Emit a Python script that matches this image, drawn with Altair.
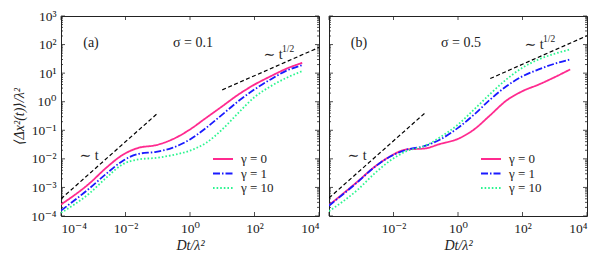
import altair as alt
import pandas as pd

log_t = [-4.0, -3.1, -2.6, -2.1, -1.6, -1.05, -0.55, 0.0, 0.5, 1.0, 1.5, 2.0, 2.5, 3.0, 3.48]

gamma_labels = ["γ = 0", "γ = 1", "γ = 10"]

# panel (a), sigma = 0.1 : log10 <Δx²(t)>/λ²
a_g0 = [-3.6, -2.84, -2.315, -1.87, -1.615, -1.52, -1.32, -0.97, -0.565, -0.16, 0.25, 0.6, 0.89, 1.16, 1.36]
a_g1 = [-3.81, -3.015, -2.525, -2.08, -1.825, -1.755, -1.615, -1.32, -0.915, -0.45, 0.02, 0.43, 0.78, 1.09, 1.28]
a_g10 = [-3.89, -3.19, -2.665, -2.2, -2.02, -1.965, -1.87, -1.71, -1.44, -0.97, -0.39, 0.16, 0.54, 0.84, 1.07]

# panel (b), sigma = 0.5
b_g0 = [-3.62, -2.78, -2.29, -1.91, -1.67, -1.64, -1.475, -1.30, -0.97, -0.47, 0.04, 0.37, 0.60, 0.86, 1.13]
b_g1 = [-3.64, -2.8, -2.3, -1.92, -1.68, -1.557, -1.32, -0.915, -0.45, 0.077, 0.54, 0.89, 1.13, 1.33, 1.48]
b_g10 = [-3.83, -3.07, -2.525, -2.06, -1.73, -1.557, -1.24, -0.8, -0.27, 0.275, 0.78, 1.19, 1.48, 1.68, 1.83]

# guide lines: (log10 t endpoints, log10 msd endpoints)
a_lin = ([-4.0, -1.0], [-3.4, -0.4])
a_sqrt = ([1.0, 4.0], [0.415, 1.9])
b_lin = ([-4.0, -1.0], [-3.37, -0.37])
b_sqrt = ([1.0, 4.0], [0.81, 2.31])

x_label_exps_a = [-4, -2, 0, 2, 4]
x_label_exps_b = [-2, 0, 2, 4]
x_tick_exps = [-4, -2, 0, 2, 4]
y_exps = [-4, -3, -2, -1, 0, 1, 2, 3]

colors = ["#ff2a8f", "#1a1aff", "#2cf590"]
dashes = [[1, 0], [7, 2, 1.5, 2], [1.6, 2]]

FONT = "'Liberation Serif', 'DejaVu Serif', serif"
W, H = 258, 200
SUP = str.maketrans("-0123456789", "⁻⁰¹²³⁴⁵⁶⁷⁸⁹")


def label_expr(exps):
    expr = "''"
    for e in sorted(exps, reverse=True):
        lo, hi = 10 ** (e - 0.5), 10 ** (e + 0.5)
        expr = f"(datum.value > {lo} && datum.value < {hi}) ? '10{str(e).translate(SUP)}' : " + expr
    return expr


xscale = alt.Scale(type="log", domain=[1e-4, 1e4], nice=False)
yscale = alt.Scale(type="log", domain=[1e-4, 1e3], nice=False)

y_major = [10.0 ** e for e in y_exps]
y_minor = [k * 10.0 ** e for e in y_exps[:-1] for k in range(2, 10)]
x_major = [10.0 ** e for e in x_tick_exps]


def panel(series, lin, sqrt, letter, sigma, show_y, xlab_exps):
    xaxis = alt.Axis(values=[10.0 ** e for e in xlab_exps], labelExpr=label_expr(xlab_exps),
                     ticks=False, tickSize=0, domain=False, grid=False, labelPadding=5,
                     labelFontSize=13.5, labelFont=FONT, labelColor="#222",
                     title="Dt/λ²", titleFont=FONT, titleFontSize=14, titleFontStyle="italic",
                     titleFontWeight="normal", titleColor="#222", titlePadding=4)
    if show_y:
        yaxis = alt.Axis(values=y_major, labelExpr=label_expr(y_exps), ticks=False, tickSize=0,
                         domain=False, grid=False, labelPadding=5, labelFontSize=13.5,
                         labelFont=FONT, labelColor="#222", minExtent=33, maxExtent=33,
                         title="⟨Δx²(t)⟩/λ²", titleFont=FONT, titleFontSize=14,
                         titleFontStyle="italic", titleFontWeight="normal", titleColor="#222",
                         titlePadding=2)
    else:
        yaxis = None

    rows = []
    for lab, vals in zip(gamma_labels, series):
        for lt, lv in zip(log_t, vals):
            rows.append({"t": 10 ** lt, "msd": 10 ** lv, "gamma": lab})
    df = pd.DataFrame(rows)

    curves = alt.Chart(df).mark_line(interpolate="monotone", strokeWidth=1.8, clip=True).encode(
        x=alt.X("t:Q", scale=xscale, axis=xaxis),
        y=alt.Y("msd:Q", scale=yscale, axis=yaxis),
        color=alt.Color("gamma:N", scale=alt.Scale(domain=gamma_labels, range=colors), legend=None),
        strokeDash=alt.StrokeDash("gamma:N", scale=alt.Scale(domain=gamma_labels, range=dashes), legend=None),
    )

    grows = []
    for name, (lx, ly) in (("lin", lin), ("sqrt", sqrt)):
        for a, b in zip(lx, ly):
            grows.append({"t": 10 ** a, "msd": 10 ** b, "g": name})
    guides = alt.Chart(pd.DataFrame(grows)).mark_line(
        color="black", strokeDash=[4, 2.5], strokeWidth=1.2, clip=True).encode(
        x=alt.X("t:Q", scale=xscale, axis=xaxis),
        y=alt.Y("msd:Q", scale=yscale, axis=yaxis),
        detail="g:N",
    )

    def yticks(vals, x0, x1):
        return alt.Chart(pd.DataFrame({"msd": vals})).mark_rule(color="#222", strokeWidth=0.8).encode(
            y=alt.Y("msd:Q", scale=yscale, axis=yaxis), x=alt.value(x0), x2=alt.value(x1))

    def xticks(y0, y1):
        return alt.Chart(pd.DataFrame({"t": x_major})).mark_rule(color="#222", strokeWidth=0.8).encode(
            x=alt.X("t:Q", scale=xscale, axis=xaxis), y=alt.value(y0), y2=alt.value(y1))

    ticks = [yticks(y_major, 0, 4), yticks(y_minor, 0, 2), yticks(y_major, W, W - 4),
             yticks(y_minor, W, W - 2), xticks(H, H - 4), xticks(0, 4)]

    dummy = pd.DataFrame({"d": [0]})

    def txt(s, x, y, size=14, align="center", style="normal"):
        return alt.Chart(dummy).mark_text(text=s, font=FONT, fontSize=size, align=align,
                                          baseline="middle", color="#222", fontStyle=style).encode(
            x=alt.value(x), y=alt.value(y))

    texts = [txt(letter, 30, 27), txt(sigma, 132, 27), txt("∼ t", 28, 140)]
    if letter == "(a)":
        texts += [txt("∼ t", 212, 39), txt("1/2", 221, 33, size=9.5, align="left")]
    else:
        texts += [txt("∼ t", 205, 29), txt("1/2", 214, 23, size=9.5, align="left")]

    legend = []
    for i, lab in enumerate(gamma_labels):
        yy = 143 + 14.5 * i
        legend.append(alt.Chart(dummy).mark_rule(color=colors[i], strokeDash=dashes[i], strokeWidth=1.8).encode(
            x=alt.value(152), x2=alt.value(172), y=alt.value(yy)))
        legend.append(txt(lab, 180, yy, size=13, align="left"))

    return alt.layer(*ticks, guides, curves, *texts, *legend).properties(width=W, height=H)


pa = panel([a_g0, a_g1, a_g10], a_lin, a_sqrt, "(a)", "σ = 0.1", True, x_label_exps_a)
pb = panel([b_g0, b_g1, b_g10], b_lin, b_sqrt, "(b)", "σ = 0.5", False, x_label_exps_b)

chart = alt.hconcat(pa, pb, spacing=8).properties(
    padding={"left": 3, "top": 0, "right": 5, "bottom": 2}
).configure_view(stroke="#222", strokeWidth=1)

chart.save("out.html", embed_options={"renderer": "svg", "actions": False})
